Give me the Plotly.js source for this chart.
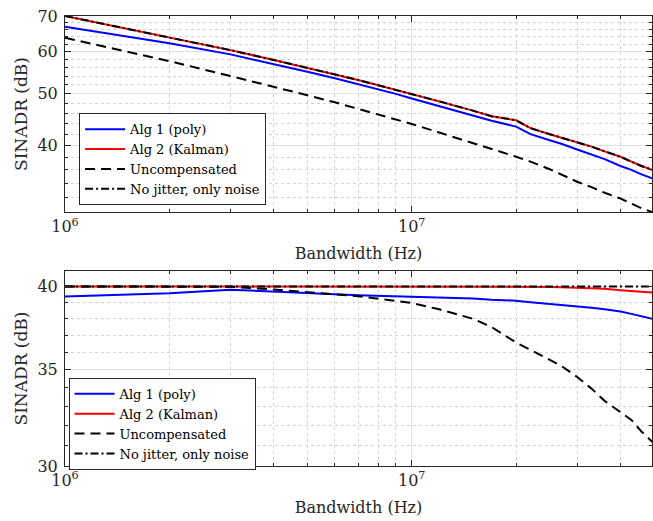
<!DOCTYPE html>
<html>
<head>
<meta charset="utf-8">
<script src="https://cdn.plot.ly/plotly-3.0.1.min.js"></script>
<style>html,body{margin:0;padding:0;background:#fff;}#chart{width:653px;height:521px;}</style>
</head>
<body>
<div id="chart"></div>
<script>
// Bandwidth samples (Hz)
const bandwidthHz = [1e6,2e6,3e6,4e6,5e6,6e6,7e6,8e6,9e6,1e7,1.2e7,1.5e7,1.7e7,2e7,2.2e7,2.5e7,2.7e7,3e7,3.3e7,3.6e7,4e7,4.3e7,4.6e7,5e7];

// Top panel SINADR (dB)
const topAlg1      = [66.8,62.2,59.3,56.9,55.0,53.5,52.2,51.0,50.0,49.0,47.4,45.6,44.5,43.4,42.0,40.9,40.3,39.3,38.5,37.7,36.6,36.0,35.3,34.6];
const topAlg2      = [70.0,63.8,60.4,57.9,56.0,54.4,53.1,51.9,50.9,50.0,48.4,46.5,45.4,44.6,43.1,42.0,41.4,40.6,39.8,39.0,38.1,37.3,36.6,35.9];
const topUncomp    = [63.7,57.6,54.0,51.6,49.7,48.2,46.9,45.8,44.8,43.9,42.3,40.5,39.4,38.1,37.3,36.1,35.3,34.2,33.4,32.6,31.8,31.1,30.5,29.9];
const topNoJitter  = [70.0,63.8,60.4,57.9,56.0,54.4,53.1,51.9,50.9,50.0,48.4,46.5,45.4,44.6,43.1,42.0,41.4,40.6,39.8,39.0,38.1,37.3,36.6,35.9];

// Bottom panel SINADR (dB)
const botAlg1      = [39.36,39.57,39.79,39.65,39.56,39.50,39.44,39.40,39.35,39.32,39.28,39.24,39.15,39.10,39.00,38.90,38.82,38.74,38.65,38.57,38.43,38.28,38.13,37.95];
const botAlg2      = [40,40,40,40,40,40,40,40,40,40,40,40,40,39.99,39.98,39.97,39.95,39.93,39.90,39.85,39.76,39.70,39.66,39.60];
const botUncomp    = [40.0,40.0,39.98,39.8,39.66,39.5,39.38,39.23,39.08,38.95,38.56,37.98,37.48,36.56,36.14,35.56,35.22,34.6,33.96,33.3,32.7,32.3,31.7,31.1];
const botNoJitter  = [40,40,40,40,40,40,40,40,40,40,40,40,40,40,40,40,40,40,40,40,40,40,40,40];

// Legend names
const seriesNames = ["Alg 1 (poly)", "Alg 2 (Kalman)", "Uncompensated", "No jitter, only noise"];

// Tick labels
const xTickVals = [1e6, 1e7];
const xTickText = ["10<sup>6</sup>", "10<sup>7</sup>"];
const xMinorVals = [2e6,3e6,4e6,5e6,6e6,7e6,8e6,9e6,2e7,3e7,4e7];
const topYTicks = [40, 50, 60, 70];
const topYMinor = [32,34,36,38,42,44,46,48,52,54,56,58,62,64,66,68];
const botYTicks = [30, 35, 40];
const botYMinor = [31,32,33,34,36,37,38,39,41];

const FONT = "'DejaVu Serif', serif";
const styles = [
  {color: "#0000ff", width: 2, dash: "solid"},
  {color: "#ff0000", width: 2, dash: "solid"},
  {color: "#000000", width: 2, dash: "10px,6px"},
  {color: "#000000", width: 2, dash: "8px,3px,2px,3px"}
];

function mk(y, i, xa, ya, leg) {
  return {x: bandwidthHz, y: y, type: "scatter", mode: "lines", name: seriesNames[i],
          line: styles[i], xaxis: xa, yaxis: ya, legend: leg};
}

const data = [
  mk(topAlg1, 0, "x", "y", "legend"),
  mk(topAlg2, 1, "x", "y", "legend"),
  mk(topUncomp, 2, "x", "y", "legend"),
  mk(topNoJitter, 3, "x", "y", "legend"),
  mk(botAlg1, 0, "x2", "y2", "legend2"),
  mk(botAlg2, 1, "x2", "y2", "legend2"),
  mk(botUncomp, 2, "x2", "y2", "legend2"),
  mk(botNoJitter, 3, "x2", "y2", "legend2")
];

const axCommon = {
  showline: true, linecolor: "#262626", linewidth: 1, mirror: "ticks",
  ticks: "inside", ticklen: 6, tickcolor: "#262626", tickwidth: 1,
  showgrid: true, gridcolor: "#e0e0e0", gridwidth: 1, zeroline: false,
  tickfont: {family: FONT, size: 16, color: "#262626"}
};

function xAxis(anchor) {
  return Object.assign({}, axCommon, {
    type: "log", range: [6, 7.693], anchor: anchor,
    tickmode: "array", tickvals: xTickVals, ticktext: xTickText,
    minor: {tickmode: "array", tickvals: xMinorVals, ticks: "inside", ticklen: 3,
            tickcolor: "#262626", showgrid: true, gridcolor: "#d4d4d4", griddash: "dot", gridwidth: 1},
    title: {text: "Bandwidth (Hz)", font: {family: FONT, size: 16, color: "#262626"}, standoff: 12}
  });
}

function yAxis(anchor, domain, lo, hi, ticks, minor) {
  return Object.assign({}, axCommon, {
    type: "log", range: [Math.log10(lo), Math.log10(hi)], anchor: anchor, domain: domain,
    tickmode: "array", tickvals: ticks, ticktext: ticks.map(String),
    ticklabelstandoff: 3,
    minor: {tickmode: "array", tickvals: minor, ticks: "inside", ticklen: 3,
            tickcolor: "#262626", showgrid: true, gridcolor: "#d4d4d4", griddash: "dot", gridwidth: 1},
    title: {text: "SINADR (dB)", font: {family: FONT, size: 17, color: "#262626"}, standoff: 5}
  });
}

const legendCommon = {
  xanchor: "left", yanchor: "top", bgcolor: "#ffffff", bordercolor: "#262626", borderwidth: 1,
  font: {family: FONT, size: 13, color: "#000000"}, tracegroupgap: 0, itemwidth: 40
};

const layout = {
  width: 653, height: 521,
  margin: {l: 65, r: 1, t: 16, b: 55},
  paper_bgcolor: "#ffffff", plot_bgcolor: "#ffffff",
  showlegend: true,
  xaxis: xAxis("y"),
  yaxis: yAxis("x", [0.5644, 1], 30, 70, topYTicks, topYMinor),
  xaxis2: xAxis("y2"),
  yaxis2: yAxis("x2", [0, 0.4333], 30, 41, botYTicks, botYMinor),
  legend: Object.assign({}, legendCommon, {x: 0.024, y: 0.784}),
  legend2: Object.assign({}, legendCommon, {x: 0.006, y: 0.196})
};

Plotly.newPlot("chart", data, layout, {displayModeBar: false, staticPlot: true});
</script>
</body>
</html>
